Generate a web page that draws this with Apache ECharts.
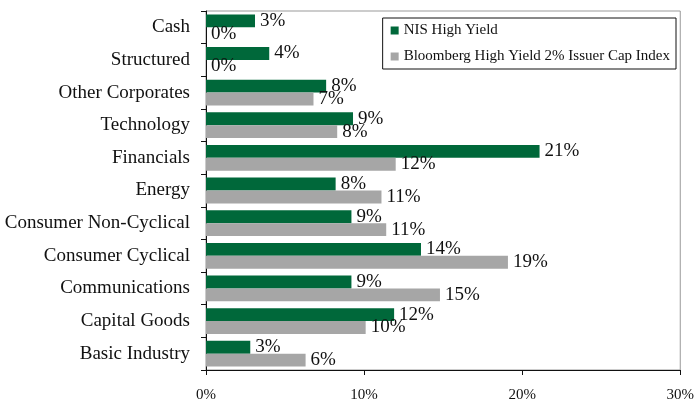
<!DOCTYPE html>
<html>
<head>
<meta charset="utf-8">
<script src="https://cdn.jsdelivr.net/npm/echarts@6/dist/echarts.min.js"></script>
<style>
  html, body { margin: 0; padding: 0; background: #fff; }
  #chart { width: 697px; height: 403px; }
</style>
</head>
<body>
<div id="chart"></div>
<script>
// categories, top to bottom
var categories = ['Cash', 'Structured', 'Other Corporates', 'Technology', 'Financials', 'Energy',
  'Consumer Non-Cyclical', 'Consumer Cyclical', 'Communications', 'Capital Goods', 'Basic Industry'];
var nisHighYield = [3.1, 4.0, 7.6, 9.3, 21.1, 8.2, 9.2, 13.6, 9.2, 11.9, 2.8];
var bloombergIndex = [0, 0, 6.8, 8.3, 12.0, 11.1, 11.4, 19.1, 14.8, 10.1, 6.3];
var xTicks = [0, 10, 20, 30];

var FONT = 'Liberation Serif';
var chart = echarts.init(document.getElementById('chart'));

function barLabel() {
  return {
    show: true,
    position: 'right',
    distance: 5,
    fontFamily: FONT,
    fontSize: 19,
    color: '#111',
    formatter: function (p) { return Math.round(p.value) + '%'; }
  };
}

var option = {
  animation: false,
  backgroundColor: '#fff',
  grid: {
    left: 206, right: 13, top: 11, bottom: 29,
    show: true, borderColor: '#999', borderWidth: 1, backgroundColor: 'transparent'
  },
  legend: {
    orient: 'vertical',
    right: 21, top: 18,
    padding: [5, 6, 5, 8],
    itemGap: 11,
    itemWidth: 8, itemHeight: 8,
    borderColor: '#111', borderWidth: 1,
    backgroundColor: '#fff',
    icon: 'rect',
    textStyle: { fontFamily: FONT, fontSize: 15, color: '#111' },
    data: ['NIS High Yield', 'Bloomberg High Yield 2% Issuer Cap Index']
  },
  xAxis: {
    type: 'value',
    min: xTicks[0], max: xTicks[xTicks.length - 1], interval: 10,
    axisLine: { show: true, lineStyle: { color: '#111' } },
    axisTick: { show: true, length: 5, lineStyle: { color: '#111' } },
    splitLine: { show: false },
    axisLabel: { fontFamily: FONT, fontSize: 15, color: '#111', margin: 18,
      formatter: function (v) { return v + '%'; } }
  },
  yAxis: {
    type: 'category',
    inverse: true,
    data: categories,
    axisLine: { show: true, lineStyle: { color: '#111' } },
    axisTick: { show: true, length: 5, lineStyle: { color: '#111' } },
    axisLabel: { fontFamily: FONT, fontSize: 19, color: '#111', margin: 16 }
  },
  series: [
    {
      name: 'NIS High Yield',
      type: 'bar',
      data: nisHighYield,
      barGap: '0%',
      barCategoryGap: '21%',
      itemStyle: { color: '#00683A' },
      label: barLabel()
    },
    {
      name: 'Bloomberg High Yield 2% Issuer Cap Index',
      type: 'bar',
      data: bloombergIndex,
      itemStyle: { color: '#A6A6A6' },
      label: barLabel()
    }
  ]
};

chart.setOption(option);
</script>
</body>
</html>
